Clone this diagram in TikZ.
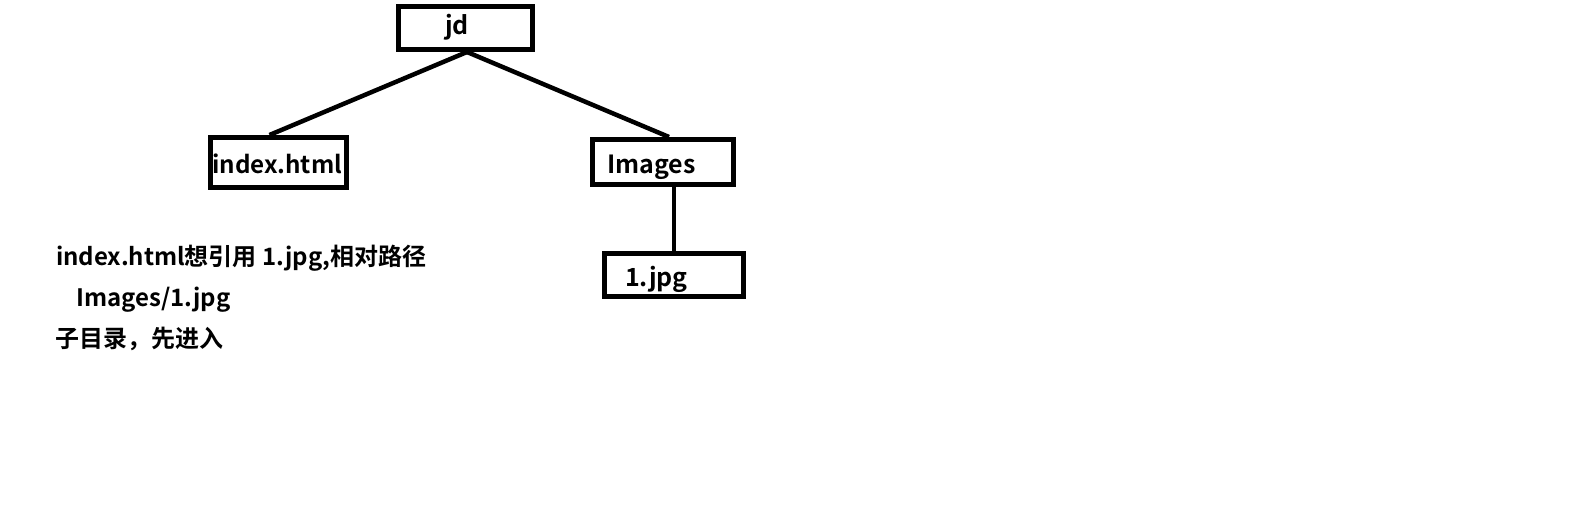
\documentclass[tikz,border=0pt]{standalone}
\usepackage{fontspec}
\newfontfamily\cjk{Noto Sans CJK SC}[BoldFont={Noto Sans CJK SC Bold}]
\usetikzlibrary{calc}
\begin{document}
\begin{tikzpicture}[x=1bp,y=-1bp,
  box/.style={draw=black,line width=5bp,rectangle,inner sep=0pt},
  conn/.style={draw=black,line width=4.5bp},
  lbl/.style={inner sep=0pt,anchor=base west,font=\cjk\bfseries\fontsize{25bp}{30bp}\selectfont},
  para/.style={inner sep=0pt,anchor=base west,font=\cjk\bfseries\fontsize{24bp}{30bp}\selectfont}]
\useasboundingbox (0,0) rectangle (1586,532);
\node[box,minimum width=134bp,minimum height=43bp] (jd) at (465.5,28) {};
\node[box,minimum width=136bp,minimum height=50bp] (idx) at (278.5,162.5) {};
\node[box,minimum width=141bp,minimum height=45bp] (img) at (663,162) {};
\node[box,minimum width=139bp,minimum height=43bp] (one) at (674,275) {};
\node[lbl] (tjd) at (445,35) {jd};
\node[lbl,font=\cjk\bfseries\fontsize{24.2bp}{30bp}\selectfont] (tidx) at (212,174) {index.html};
\node[lbl] (timg) at (607,174) {Images};
\node[lbl] (tone) at (625,287) {1.jpg};
\draw[conn] ([xshift=1.5bp]jd.south) -- ([xshift=-9bp]idx.north);
\draw[conn] ([xshift=1.5bp]jd.south) -- ([xshift=6bp]img.north);
\draw[conn] (one.north |- img.south) -- (one.north);
\node[para] (p1) at (56,266) {index.html想引用 1.jpg,相对路径};
\node[para] (p2) at (76,307) {Images/1.jpg};
\node[para] (p3) at (55,347) {子目录，先进入};
\end{tikzpicture}
\end{document}
